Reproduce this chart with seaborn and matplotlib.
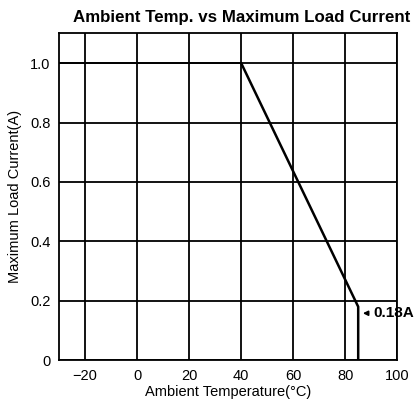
import pandas as pd
import matplotlib
matplotlib.use("Agg")
import matplotlib.pyplot as plt
import seaborn as sns

# derating curve
temp = [40, 85, 85]
current = [1.0, 0.18, 0.0]
flat_temp = [-30, 40]
flat_current = [1.0, 1.0]
x_ticks = [-20, 0, 20, 40, 60, 80, 100]
y_ticks = [0, 0.2, 0.4, 0.6, 0.8, 1.0]
y_labels = ["0", "0.2", "0.4", "0.6", "0.8", "1.0"]

sns.set_theme(style="white")
plt.rcParams['font.family'] = ['Liberation Sans', 'DejaVu Sans']

fig, ax = plt.subplots(figsize=(4.19, 4.07), dpi=100)
fig.subplots_adjust(left=0.141, right=0.948, top=0.918, bottom=0.115)

df = pd.DataFrame({"t": temp, "i": current})
sns.lineplot(data=df, x="t", y="i", sort=False, estimator=None, color="black",
             linewidth=1.8, ax=ax)
ax.plot(flat_temp, flat_current, color="black", linewidth=1.3)

ax.set_xlim(-30, 100)
ax.set_ylim(0, 1.1)
ax.set_xticks(x_ticks)
ax.set_yticks(y_ticks)
ax.set_yticklabels(y_labels)
ax.grid(True, color="black", linewidth=1.3)
for s in ax.spines.values():
    s.set_color("black")
    s.set_linewidth(1.3)
ax.tick_params(length=0, labelsize=10.5, colors="black", pad=6)

ax.set_xlabel("Ambient Temperature(°C)", fontsize=10.5, color="black", labelpad=2)
ax.set_ylabel("Maximum Load Current(A)", fontsize=10.5, color="black", labelpad=6)
ax.set_title("Ambient Temp. vs Maximum Load Current", fontsize=12.2, fontweight="bold",
             color="black", pad=8, x=0.54)

ax.annotate("0.18A", xy=(86.8, 0.158), xytext=(90.7, 0.158), fontsize=11, fontweight="bold",
            color="black", va="center", ha="left",
            arrowprops=dict(arrowstyle="-|>", color="black", lw=1.2, mutation_scale=7,
                            shrinkA=1, shrinkB=0))

plt.savefig("out.png", dpi=100)
